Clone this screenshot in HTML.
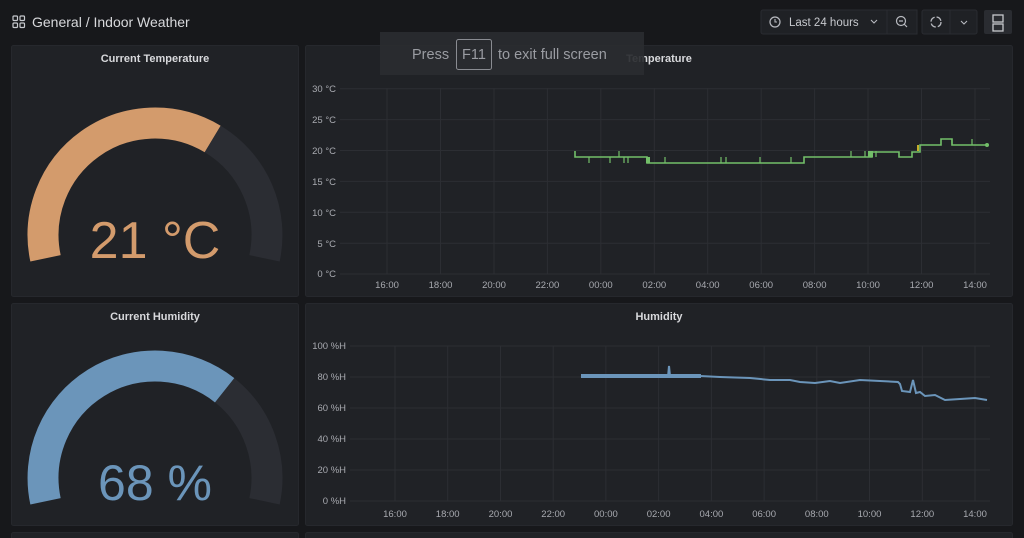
<!DOCTYPE html>
<html><head><meta charset="utf-8"><style>
html,body{margin:0;padding:0;background:#17181b;width:1024px;height:538px;overflow:hidden}
svg{display:block;font-family:"Liberation Sans",sans-serif}
</style></head><body>
<svg width="1024" height="538" viewBox="0 0 1024 538">
<rect width="1024" height="538" fill="#17181b"/>
<!-- header -->
<g fill="none" stroke="#c7c9ce" stroke-width="1.2">
<rect x="13" y="16" width="4.5" height="4.5" rx="1"/><rect x="20" y="16" width="4.5" height="4.5" rx="1"/>
<rect x="13" y="23" width="4.5" height="4.5" rx="1"/><rect x="20" y="23" width="4.5" height="4.5" rx="1"/>
</g>
<text x="32" y="27" font-size="14" fill="#d8d9dc">General  / Indoor Weather</text>
<rect x="761" y="10" width="127" height="24" rx="2" fill="#1f2125" stroke="#2a2c31"/>
<rect x="887" y="10" width="30" height="24" fill="#1f2125" stroke="#2a2c31"/>
<circle cx="775" cy="22" r="5" fill="none" stroke="#b8bac0" stroke-width="1.2"/>
<path d="M775 19v3h2" fill="none" stroke="#b8bac0" stroke-width="1.1"/>
<text x="789" y="26" font-size="11.5" fill="#c7c9ce">Last 24 hours</text>
<path d="M871 20l3 3 3-3" fill="none" stroke="#b8bac0" stroke-width="1.1"/>
<circle cx="901" cy="21" r="4.5" fill="none" stroke="#b8bac0" stroke-width="1.2"/>
<path d="M899 21h4M904 24l3 3" stroke="#b8bac0" stroke-width="1.2"/>
<rect x="922" y="10" width="55" height="24" rx="2" fill="#1f2125" stroke="#2a2c31"/>
<line x1="950" y1="10" x2="950" y2="34" stroke="#2a2c31"/>
<circle cx="936" cy="22" r="5" fill="none" stroke="#b8bac0" stroke-width="1.3" stroke-dasharray="6 2"/>
<path d="M961 21l3 3 3-3" fill="none" stroke="#b8bac0" stroke-width="1.1"/>
<rect x="984" y="10" width="28" height="24" rx="2" fill="#2a2c31"/>
<rect x="993" y="15" width="10" height="7" fill="none" stroke="#c7c9ce" stroke-width="1.3"/>
<rect x="993" y="24" width="10" height="7" fill="none" stroke="#c7c9ce" stroke-width="1.3"/>

<!-- panels -->
<g fill="#202226" stroke="#26282d">
<rect x="11.5" y="45.5" width="287" height="251" rx="2"/>
<rect x="305.5" y="45.5" width="707" height="251" rx="2"/>
<rect x="11.5" y="303.5" width="287" height="222" rx="2"/>
<rect x="305.5" y="303.5" width="707" height="222" rx="2"/>
<rect x="11.5" y="532.5" width="287" height="20" rx="2"/>
<rect x="305.5" y="532.5" width="707" height="20" rx="2"/>
</g>
<g font-size="11" font-weight="bold" fill="#d8d9dc" text-anchor="middle">
<text x="155" y="62">Current Temperature</text>
<text x="659" y="62">Temperature</text>
<text x="155" y="320">Current Humidity</text>
<text x="659" y="320">Humidity</text>
</g>

<!-- temp gauge -->
<path d="M45.5 258.3 A112 112 0 0 1 212.7 139" fill="none" stroke="#d39b6c" stroke-width="31"/>
<path d="M212.7 139 A112 112 0 0 1 264.5 258.3" fill="none" stroke="#2b2d33" stroke-width="31"/>
<text x="155" y="258" font-size="52" fill="#d39b6c" text-anchor="middle">21 °C</text>
<!-- hum gauge -->
<path d="M45.5 501.3 A112 112 0 0 1 224.7 390.3" fill="none" stroke="#6b95ba" stroke-width="31"/>
<path d="M224.7 390.3 A112 112 0 0 1 264.5 501.3" fill="none" stroke="#2b2d33" stroke-width="31"/>
<text x="155" y="500" font-size="50" fill="#6b95ba" text-anchor="middle">68 %</text>

<!-- temp chart grid -->
<g stroke="#2c2e33" stroke-width="1">
<line x1="340" x2="990" y1="88.7" y2="88.7"/><line x1="340" x2="990" y1="119.6" y2="119.6"/>
<line x1="340" x2="990" y1="150.5" y2="150.5"/><line x1="340" x2="990" y1="181.4" y2="181.4"/>
<line x1="340" x2="990" y1="212.3" y2="212.3"/><line x1="340" x2="990" y1="243.2" y2="243.2"/>
<line x1="340" x2="990" y1="274" y2="274"/>
<line x1="387" x2="387" y1="88" y2="274"/><line x1="440.5" x2="440.5" y1="88" y2="274"/>
<line x1="494" x2="494" y1="88" y2="274"/><line x1="547.4" x2="547.4" y1="88" y2="274"/>
<line x1="600.8" x2="600.8" y1="88" y2="274"/><line x1="654.3" x2="654.3" y1="88" y2="274"/>
<line x1="707.7" x2="707.7" y1="88" y2="274"/><line x1="761.2" x2="761.2" y1="88" y2="274"/>
<line x1="814.6" x2="814.6" y1="88" y2="274"/><line x1="868" x2="868" y1="88" y2="274"/>
<line x1="921.5" x2="921.5" y1="88" y2="274"/><line x1="975" x2="975" y1="88" y2="274"/>
</g>
<g font-size="9.5" fill="#a8aab0" text-anchor="end">
<text x="336" y="92">30 °C</text><text x="336" y="123">25 °C</text><text x="336" y="154">20 °C</text>
<text x="336" y="185">15 °C</text><text x="336" y="216">10 °C</text><text x="336" y="247">5 °C</text>
<text x="336" y="277">0 °C</text>
</g>
<g font-size="9.5" fill="#a8aab0" text-anchor="middle">
<text x="387" y="288">16:00</text><text x="440.5" y="288">18:00</text><text x="494" y="288">20:00</text>
<text x="547.4" y="288">22:00</text><text x="600.8" y="288">00:00</text><text x="654.3" y="288">02:00</text>
<text x="707.7" y="288">04:00</text><text x="761.2" y="288">06:00</text><text x="814.6" y="288">08:00</text>
<text x="868" y="288">10:00</text><text x="921.5" y="288">12:00</text><text x="975" y="288">14:00</text>
</g>
<path d="M575 151V157H647V163H804V157H872V152H899V157H912V152H920V145H941V139H952V145H987" fill="none" stroke="#73bf69" stroke-width="1.6"/>
<g stroke="#73bf69" stroke-width="1.2">
<path d="M589 157v6M610 157v6M619 157v-6M624 157v6M628 157v6M665 163v-6M721 163v-6M726 163v-6M760 163v-6M791 163v-6M851 157v-6M865 157v-6M869 157v-6M876 157v-6M952 145v-6M972 145v-6"/>
</g>
<rect x="646" y="157" width="4" height="6" fill="#73bf69"/>
<rect x="868" y="151" width="5" height="6" fill="#73bf69"/>
<path d="M918 145v6" stroke="#fade2a" stroke-width="1.5"/>
<circle cx="987" cy="145" r="2" fill="#73bf69"/>

<!-- humidity chart grid -->
<g stroke="#2c2e33" stroke-width="1">
<line x1="350" x2="990" y1="346" y2="346"/><line x1="350" x2="990" y1="377" y2="377"/>
<line x1="350" x2="990" y1="408" y2="408"/><line x1="350" x2="990" y1="439" y2="439"/>
<line x1="350" x2="990" y1="470" y2="470"/><line x1="350" x2="990" y1="501" y2="501"/>
<line x1="395" x2="395" y1="346" y2="501"/><line x1="447.7" x2="447.7" y1="346" y2="501"/>
<line x1="500.5" x2="500.5" y1="346" y2="501"/><line x1="553.2" x2="553.2" y1="346" y2="501"/>
<line x1="605.9" x2="605.9" y1="346" y2="501"/><line x1="658.6" x2="658.6" y1="346" y2="501"/>
<line x1="711.4" x2="711.4" y1="346" y2="501"/><line x1="764.1" x2="764.1" y1="346" y2="501"/>
<line x1="816.8" x2="816.8" y1="346" y2="501"/><line x1="869.5" x2="869.5" y1="346" y2="501"/>
<line x1="922.3" x2="922.3" y1="346" y2="501"/><line x1="975" x2="975" y1="346" y2="501"/>
</g>
<g font-size="9.5" fill="#a8aab0" text-anchor="end">
<text x="346" y="349">100 %H</text><text x="346" y="380">80 %H</text><text x="346" y="411">60 %H</text>
<text x="346" y="442">40 %H</text><text x="346" y="473">20 %H</text><text x="346" y="504">0 %H</text>
</g>
<g font-size="9.5" fill="#a8aab0" text-anchor="middle">
<text x="395" y="517">16:00</text><text x="447.7" y="517">18:00</text><text x="500.5" y="517">20:00</text>
<text x="553.2" y="517">22:00</text><text x="605.9" y="517">00:00</text><text x="658.6" y="517">02:00</text>
<text x="711.4" y="517">04:00</text><text x="764.1" y="517">06:00</text><text x="816.8" y="517">08:00</text>
<text x="869.5" y="517">10:00</text><text x="922.3" y="517">12:00</text><text x="975" y="517">14:00</text>
</g>
<path d="M581 377L600 376L620 377L650 376L668 377L669 366L670 376L700 376L720 377L750 378L770 380L790 380L800 382L815 383L830 381L840 383L860 380L880 381L898 382L900 384L902 391L910 392L913 380L916 393L920 392L925 396L935 395L945 400L960 399L975 398L987 400" fill="none" stroke="#6b95ba" stroke-width="2"/>
<rect x="581" y="374" width="120" height="4" fill="#6b95ba"/>

<!-- fullscreen toast -->
<rect x="380" y="32" width="264" height="43" fill="#2a2c30" opacity="0.92"/>
<text x="412" y="59" font-size="14.5" fill="#9a9ca2">Press</text>
<rect x="456.5" y="39.5" width="35" height="30" rx="2" fill="none" stroke="#8a8c92"/>
<text x="474" y="59" font-size="14.5" fill="#9a9ca2" text-anchor="middle">F11</text>
<text x="498" y="59" font-size="14.5" fill="#9a9ca2">to exit full screen</text>
</svg>
</body></html>
